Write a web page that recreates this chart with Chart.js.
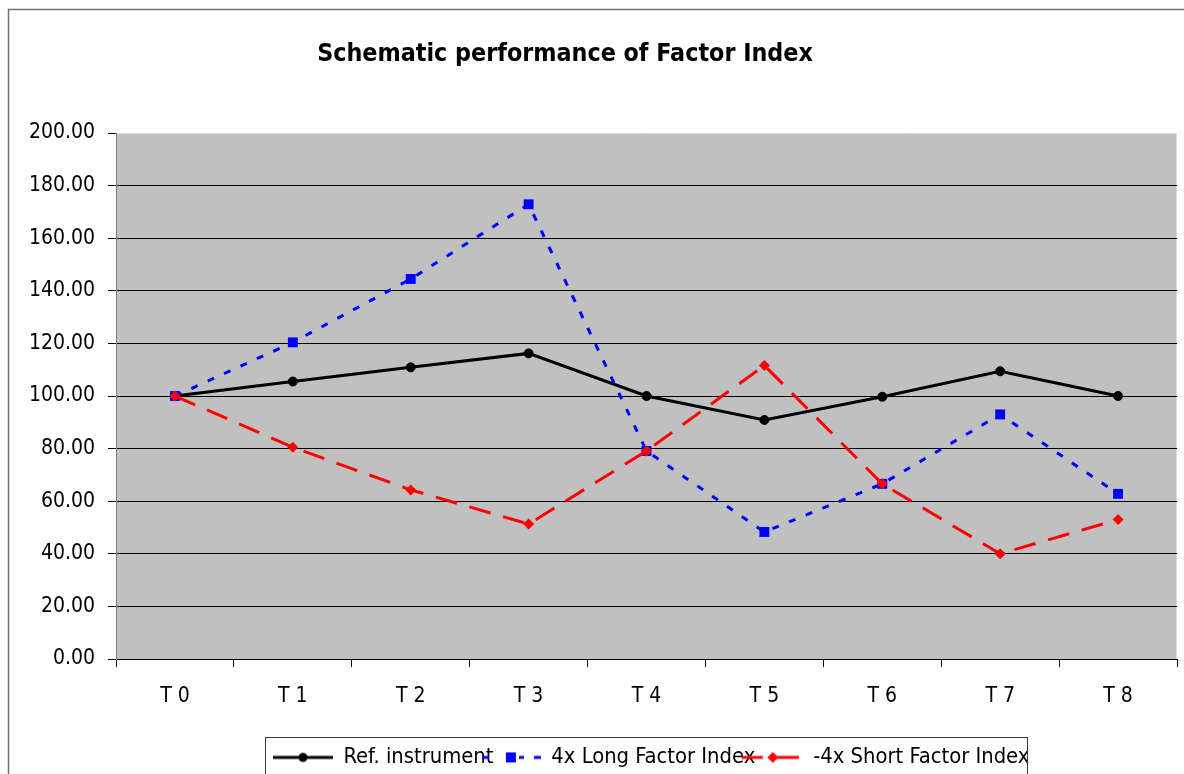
<!DOCTYPE html>
<html>
<head>
<meta charset="utf-8">
<script src="https://cdn.jsdelivr.net/npm/chart.js@4.4.1/dist/chart.umd.min.js"></script>
<style>
  html, body { margin: 0; padding: 0; background: #ffffff; overflow: hidden; }
  #wrap { position: relative; width: 1184px; height: 774px; overflow: hidden; }
  canvas { display: block; }
</style>
</head>
<body>
<div id="wrap"><canvas id="c" width="1184" height="774"></canvas></div>
<script>
const categories = ['T 0', 'T 1', 'T 2', 'T 3', 'T 4', 'T 5', 'T 6', 'T 7', 'T 8'];
const refInstrument = [100, 105.5, 110.9, 116.2, 100, 90.9, 99.7, 109.4, 100];
const longFactor = [100, 120.4, 144.5, 172.9, 79.1, 48.3, 66.6, 93.0, 62.8];
const shortFactor = [100, 80.5, 64.3, 51.3, 79.1, 111.6, 66.6, 40.0, 53.0];
const seriesNames = ['Ref. instrument', '4x Long Factor Index', '-4x Short Factor Index'];
const titleText = 'Schematic performance of Factor Index';

const FAMILY = "'DejaVu Sans Condensed', 'DejaVu Sans', sans-serif";

// legend icon: 76px wide canvas, visible icon drawn in x 0..64 (centre 32)
function makeIcon(kind) {
  const cv = document.createElement('canvas');
  cv.width = 76; cv.height = 14;
  const g = cv.getContext('2d');
  const cy = 7;
  g.lineWidth = 3;
  g.lineCap = 'butt';
  if (kind === 0) {
    g.strokeStyle = '#000';
    g.beginPath(); g.moveTo(2, cy); g.lineTo(62, cy); g.stroke();
    g.fillStyle = '#000';
    g.beginPath(); g.arc(32, cy, 4.5, 0, Math.PI * 2); g.fill();
  } else if (kind === 1) {
    g.strokeStyle = '#0000ff';
    const segs = [[3, 10], [40, 45], [55, 62]];
    segs.forEach(s => { g.beginPath(); g.moveTo(s[0], cy); g.lineTo(s[1], cy); g.stroke(); });
    g.fillStyle = '#0000ff';
    g.fillRect(27, cy - 5, 10, 10);
  } else {
    g.strokeStyle = '#ff0000';
    const segs = [[1, 22], [35, 58]];
    segs.forEach(s => { g.beginPath(); g.moveTo(s[0], cy); g.lineTo(s[1], cy); g.stroke(); });
    g.fillStyle = '#ff0000';
    g.beginPath(); g.moveTo(32 - 5.5, cy); g.lineTo(32, cy - 5.5); g.lineTo(32 + 5.5, cy); g.lineTo(32, cy + 5.5); g.closePath(); g.fill();
  }
  return cv;
}
const icons = [makeIcon(0), makeIcon(1), makeIcon(2)];

const PLOT_BOTTOM = 659;

const decor = {
  id: 'decor',
  afterLayout(chart) {
    const tb = chart.titleBlock;
    if (tb) { tb.left = 0; tb.right = 1130; }
    const lg = chart.legend;
    if (lg && lg.lineWidths) {
      const x0 = 285.5; // cursor x of first legend item
      const lw = lg.lineWidths[0];
      lg.left = 0;
      lg.right = 2 * x0 + lw;
      lg.width = lg.right - lg.left;
      lg.top = 746.5;
      lg.bottom = 800;
      lg.height = lg.bottom - lg.top;
    }
  },
  beforeDraw(chart) {
    const ctx = chart.ctx;
    const a = chart.chartArea;
    ctx.save();
    ctx.fillStyle = '#ffffff';
    ctx.fillRect(0, 0, chart.width, chart.height);
    ctx.strokeStyle = '#6f6f6f';
    ctx.lineWidth = 1.5;
    ctx.strokeRect(8.5, 9.5, 1400, 1000);
    ctx.fillStyle = '#c0c0c0';
    ctx.fillRect(a.left, a.top, a.right - a.left, a.bottom - a.top);
    ctx.strokeStyle = '#dadada';
    ctx.lineWidth = 1;
    ctx.beginPath();
    ctx.moveTo(a.left, a.top + 0.5); ctx.lineTo(a.right - 0.5, a.top + 0.5); ctx.lineTo(a.right - 0.5, a.bottom);
    ctx.stroke();
    ctx.restore();
  },
  afterDraw(chart) {
    const ctx = chart.ctx;
    ctx.save();
    ctx.strokeStyle = '#3c3c3c';
    ctx.lineWidth = 1;
    ctx.strokeRect(265.5, 737.5, 762, 100);
    ctx.restore();
  }
};

new Chart(document.getElementById('c'), {
  type: 'line',
  data: {
    labels: categories,
    datasets: [
      {
        label: seriesNames[0], data: refInstrument,
        borderColor: '#000000', backgroundColor: '#000000', borderWidth: 3,
        pointStyle: 'circle', pointRadius: 4.5, pointBorderWidth: 1,
        pointBackgroundColor: '#000000', pointBorderColor: '#000000',
        tension: 0, order: 3
      },
      {
        label: seriesNames[1], data: longFactor,
        borderColor: '#0000ff', backgroundColor: '#0000ff', borderWidth: 3,
        borderDash: [7, 11],
        pointStyle: 'rect', pointRadius: 7, pointBorderWidth: 0,
        pointBackgroundColor: '#0000ff', pointBorderColor: '#0000ff',
        tension: 0, order: 2
      },
      {
        label: seriesNames[2], data: shortFactor,
        borderColor: '#ff0000', backgroundColor: '#ff0000', borderWidth: 3,
        borderDash: [22, 13],
        pointStyle: 'rectRot', pointRadius: 5.5, pointBorderWidth: 0,
        pointBackgroundColor: '#ff0000', pointBorderColor: '#ff0000',
        tension: 0, order: 1
      }
    ]
  },
  options: {
    responsive: false,
    animation: false,
    devicePixelRatio: 1,
    layout: { padding: { left: 0, right: 6, top: 0, bottom: 0 } },
    plugins: {
      title: {
        display: true,
        text: titleText,
        color: '#000000',
        font: { family: FAMILY, size: 24.8, weight: 'bold', lineHeight: 1.2 },
        padding: { top: 40, bottom: 63.24 }
      },
      legend: {
        display: true,
        position: 'bottom',
        align: 'center',
        labels: {
          usePointStyle: true,
          pointStyleWidth: 47,
          padding: 0,
          color: '#000000',
          font: { family: FAMILY, size: 21.8 },
          generateLabels(chart) {
            return seriesNames.map((name, i) => ({
              text: name,
              pointStyle: icons[i],
              fillStyle: 'rgba(0,0,0,0)',
              strokeStyle: 'rgba(0,0,0,0)',
              lineWidth: 0,
              hidden: false,
              datasetIndex: i,
              fontColor: '#000000'
            }));
          }
        }
      },
      tooltip: { enabled: false }
    },
    scales: {
      x: {
        type: 'category',
        offset: true,
        grid: {
          offset: true,
          drawOnChartArea: false,
          drawTicks: true,
          tickLength: 8,
          tickColor: '#000000',
          color: '#000000'
        },
        border: { color: '#000000', width: 1 },
        ticks: {
          color: '#000000',
          font: { family: FAMILY, size: 21 },
          padding: 17,
          maxRotation: 0,
          autoSkip: false
        },
        afterFit(scale) {
          const lh = (scale.chart.legend && scale.chart.legend.height) || 0;
          scale.height = Math.max(10, 774 - PLOT_BOTTOM - lh);
        }
      },
      y: {
        min: 0,
        max: 200,
        grid: {
          color: (c) => (c.tick && c.tick.value === 200) ? 'rgba(0,0,0,0)' : '#000000',
          tickColor: '#000000',
          tickLength: 8,
          drawTicks: true,
          lineWidth: 1
        },
        border: { color: '#808080', width: 1 },
        ticks: {
          stepSize: 20,
          color: '#000000',
          font: { family: FAMILY, size: 21 },
          padding: 13,
          callback: (v) => Number(v).toFixed(2)
        },
        afterFit(scale) { scale.width = 116; }
      }
    }
  },
  plugins: [decor]
});
</script>
</body>
</html>
